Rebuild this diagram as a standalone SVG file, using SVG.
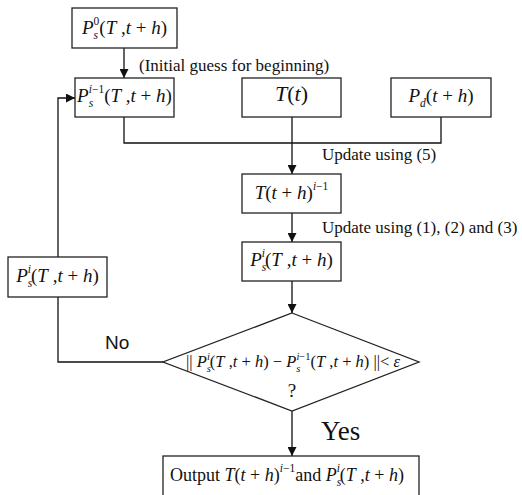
<svg xmlns="http://www.w3.org/2000/svg" width="522" height="495" viewBox="0 0 522 495">
<style>
.box{fill:#fff;stroke:#222;stroke-width:1.3}
.ln{fill:none;stroke:#111;stroke-width:1.3}
.m{font-family:"Liberation Serif","Times New Roman",serif;font-size:19px;fill:#111}
.i{font-style:italic}
.s{font-size:11.5px}
.lbl{font-family:"Liberation Serif","Times New Roman",serif;font-size:17px;fill:#111}
.no{font-family:"Liberation Sans",Arial,sans-serif;font-size:19px;fill:#111}
.yes{font-family:"Liberation Serif","Times New Roman",serif;font-size:27px;fill:#111}
</style>
<defs>
<marker id="ar" viewBox="0 0 10 10" refX="10" refY="5" markerWidth="9" markerHeight="9" markerUnits="userSpaceOnUse" orient="auto">
<path d="M0,0 L10,5 L0,10 z" fill="#111"/>
</marker>
</defs>
<g id="connectors">
<path class="ln" d="M124,48 V78" marker-end="url(#ar)"/>
<path class="ln" d="M124,117 V143 H441 V117"/>
<path class="ln" d="M292,117 V174" marker-end="url(#ar)"/>
<path class="ln" d="M292,213 V242" marker-end="url(#ar)"/>
<path class="ln" d="M292,281 V313" marker-end="url(#ar)"/>
<path class="ln" d="M163,362 H58 V98 H75" marker-end="url(#ar)"/>
<path class="ln" d="M292,411 V456" marker-end="url(#ar)"/>
</g>
<g id="n-ps0">
<rect class="box" x="72" y="8" width="105" height="40"/>
<text class="m" x="124.5" y="34" text-anchor="middle"><tspan class="i">P</tspan><tspan class="s i" dy="5">s</tspan><tspan class="s" dx="-4.5" dy="-14">0</tspan><tspan dy="9">(</tspan><tspan class="i">T</tspan><tspan> ,</tspan><tspan class="i">t</tspan><tspan> + </tspan><tspan class="i">h</tspan><tspan>)</tspan></text>
</g>
<text class="lbl" x="139" y="71">(Initial guess for beginning)</text>
<g id="n-psim1">
<rect class="box" x="75" y="78" width="99" height="39"/>
<text class="m" x="124.5" y="102" text-anchor="middle"><tspan class="i">P</tspan><tspan class="s i" dy="5">s</tspan><tspan class="s" dx="-4.5" dy="-14"><tspan class="i">i</tspan>−1</tspan><tspan dy="9">(</tspan><tspan class="i">T</tspan><tspan> ,</tspan><tspan class="i">t</tspan><tspan> + </tspan><tspan class="i">h</tspan><tspan>)</tspan></text>
</g>
<g id="n-tt">
<rect class="box" x="242" y="78" width="99" height="39"/>
<text class="m" x="291.5" y="101" text-anchor="middle" style="font-size:22px"><tspan class="i">T</tspan><tspan>(</tspan><tspan class="i">t</tspan><tspan>)</tspan></text>
</g>
<g id="n-pd">
<rect class="box" x="391" y="78" width="100" height="39"/>
<text class="m" x="441" y="102" text-anchor="middle"><tspan class="i">P</tspan><tspan class="s i" dy="5">d</tspan><tspan dy="-5">(</tspan><tspan class="i">t</tspan><tspan> + </tspan><tspan class="i">h</tspan><tspan>)</tspan></text>
</g>
<text class="lbl" x="322" y="160">Update using (5)</text>
<g id="n-tth">
<rect class="box" x="242" y="174" width="99" height="39"/>
<text class="m" x="291.5" y="199" text-anchor="middle"><tspan class="i">T</tspan><tspan>(</tspan><tspan class="i">t</tspan><tspan> + </tspan><tspan class="i">h</tspan><tspan>)</tspan><tspan class="s" dy="-9"><tspan class="i">i</tspan>−1</tspan></text>
</g>
<text class="lbl" x="322" y="233">Update using (1), (2) and (3)</text>
<g id="n-psi">
<rect class="box" x="242" y="242" width="99" height="39"/>
<text class="m" x="291.5" y="266" text-anchor="middle"><tspan class="i">P</tspan><tspan class="s i" dy="5">s</tspan><tspan class="s i" dx="-4.5" dy="-14">i</tspan><tspan dy="9">(</tspan><tspan class="i">T</tspan><tspan> ,</tspan><tspan class="i">t</tspan><tspan> + </tspan><tspan class="i">h</tspan><tspan>)</tspan></text>
</g>
<g id="n-psi-left">
<rect class="box" x="8" y="257" width="99" height="40"/>
<text class="m" x="57.5" y="282" text-anchor="middle"><tspan class="i">P</tspan><tspan class="s i" dy="5">s</tspan><tspan class="s i" dx="-4.5" dy="-14">i</tspan><tspan dy="9">(</tspan><tspan class="i">T</tspan><tspan> ,</tspan><tspan class="i">t</tspan><tspan> + </tspan><tspan class="i">h</tspan><tspan>)</tspan></text>
</g>
<g id="n-check">
<polygon class="box" points="292,313 419,362 292,411 163,362"/>
<text class="m" x="293" y="367" text-anchor="middle" style="font-size:16.5px"><tspan>|| </tspan><tspan class="i">P</tspan><tspan class="s i" dy="5" style="font-size:10.5px">s</tspan><tspan class="s i" dx="-4" dy="-12" style="font-size:10.5px">i</tspan><tspan dy="7">(</tspan><tspan class="i">T</tspan><tspan> ,</tspan><tspan class="i">t</tspan><tspan> + </tspan><tspan class="i">h</tspan><tspan>) − </tspan><tspan class="i">P</tspan><tspan class="s i" dy="5" style="font-size:10.5px">s</tspan><tspan class="s" dx="-4" dy="-12" style="font-size:10.5px"><tspan class="i">i</tspan>−1</tspan><tspan dy="7">(</tspan><tspan class="i">T</tspan><tspan> ,</tspan><tspan class="i">t</tspan><tspan> + </tspan><tspan class="i">h</tspan><tspan>) ||&lt; </tspan><tspan class="i">ε</tspan></text>
<text class="m" x="292" y="397" text-anchor="middle">?</text>
</g>
<text class="no" x="105" y="349">No</text>
<text class="yes" x="321" y="440">Yes</text>
<g id="n-output">
<rect class="box" x="163" y="456" width="256" height="46"/>
<text class="m" x="287" y="481" text-anchor="middle" style="font-size:18px"><tspan>Output  </tspan><tspan class="i">T</tspan><tspan>(</tspan><tspan class="i">t</tspan><tspan> + </tspan><tspan class="i">h</tspan><tspan>)</tspan><tspan class="s" dy="-9"><tspan class="i">i</tspan>−1</tspan><tspan dy="9">and </tspan><tspan class="i">P</tspan><tspan class="s i" dy="5">s</tspan><tspan class="s i" dx="-4.5" dy="-14">i</tspan><tspan dy="9">(</tspan><tspan class="i">T</tspan><tspan> ,</tspan><tspan class="i">t</tspan><tspan> + </tspan><tspan class="i">h</tspan><tspan>)</tspan></text>
</g>
</svg>
